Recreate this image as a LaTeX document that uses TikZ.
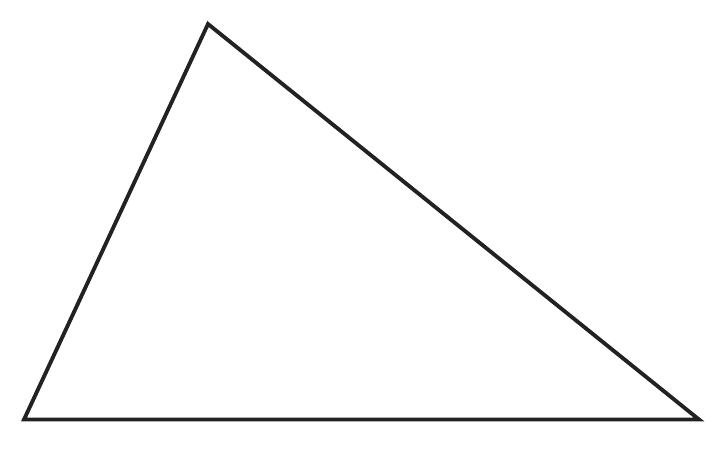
\documentclass[tikz,border=0pt]{standalone}
\usepackage{xcolor}
\usepackage{tikz}
\definecolor{edgegray}{RGB}{34, 34, 34}
\usetikzlibrary{positioning, calc}

\begin{document}
\begin{tikzpicture}[
    x=0.02cm, y=-0.02cm,
    side/.style={draw=edgegray, line width=2.2pt, line join=miter}
]
    \useasboundingbox (0, 0) rectangle (722, 454);

    \coordinate (a) at (24, 419.5);
    \coordinate (b) at (208, 24);
    \coordinate (c) at (699, 419.5);

    \draw[side] (a) -- (b) -- (c) -- cycle;

\end{tikzpicture}
\end{document}
